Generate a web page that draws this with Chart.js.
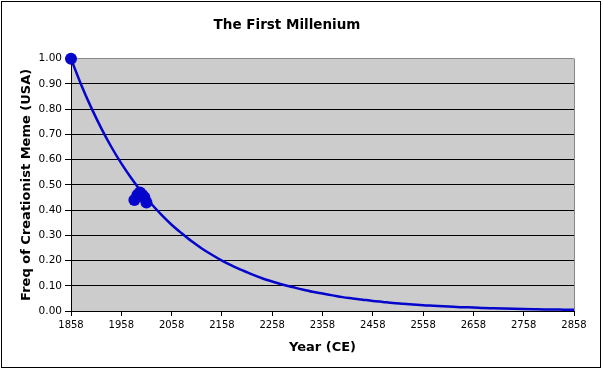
<!DOCTYPE html>
<html>
<head>
<meta charset="utf-8">
<script src="https://cdn.jsdelivr.net/npm/chart.js@4"></script>
<style>
  html, body { margin: 0; padding: 0; background: #fff; }
  #wrap { width: 603px; height: 370px; }
</style>
</head>
<body>
<div id="wrap"><canvas id="chart" width="603" height="370"></canvas></div>
<script>
// --- Data ---
const years = [1858, 1878, 1898, 1918, 1938, 1958, 1978, 1998, 2018, 2038,
  2058, 2078, 2098, 2118, 2138, 2158, 2178, 2198, 2218, 2238,
  2258, 2278, 2298, 2318, 2338, 2358, 2378, 2398, 2418, 2438,
  2458, 2478, 2498, 2518, 2538, 2558, 2578, 2598, 2618, 2638,
  2658, 2678, 2698, 2718, 2738, 2758, 2778, 2798, 2818, 2838, 2858];
const freq = [1.000, 0.898, 0.807, 0.725, 0.651, 0.585, 0.526, 0.472, 0.424, 0.381,
  0.342, 0.308, 0.276, 0.248, 0.223, 0.200, 0.180, 0.162, 0.145, 0.130,
  0.117, 0.105, 0.095, 0.085, 0.076, 0.069, 0.062, 0.055, 0.050, 0.045,
  0.040, 0.036, 0.032, 0.029, 0.026, 0.023, 0.021, 0.019, 0.017, 0.015,
  0.014, 0.012, 0.011, 0.010, 0.009, 0.008, 0.007, 0.006, 0.006, 0.005, 0.005];

// observed points (start + survey cluster)
const obsYears = [1858, 1984, 1990, 1995, 2000, 2004, 2008];
const obsFreq = [1.00, 0.44, 0.46, 0.47, 0.46, 0.45, 0.43];

const xTicks = [1858, 1958, 2058, 2158, 2258, 2358, 2458, 2558, 2658, 2758, 2858];

const BLUE = '#0505cc';
const FONT = 'DejaVu Sans';

// --- Plugins ---
const frame = {
  id: 'frame',
  beforeDraw(chart) {
    const { ctx, chartArea: a } = chart;
    ctx.save();
    ctx.fillStyle = '#fff';
    ctx.fillRect(0, 0, chart.width, chart.height);
    ctx.fillStyle = '#cccccc';
    ctx.fillRect(a.left, a.top, a.right - a.left, a.bottom - a.top);
    ctx.strokeStyle = '#000';
    ctx.lineWidth = 1;
    ctx.strokeRect(1.5, 1.5, 599, 366);
    ctx.restore();
  },
  afterDraw(chart) {
    const { ctx, chartArea: a } = chart;
    ctx.save();
    ctx.strokeStyle = '#888';
    ctx.lineWidth = 1;
    ctx.beginPath();
    ctx.moveTo(a.right + 0.5, a.top);
    ctx.lineTo(a.right + 0.5, a.bottom);
    ctx.stroke();
    ctx.restore();
  }
};

// --- Chart ---
new Chart(document.getElementById('chart'), {
  type: 'line',
  data: {
    datasets: [
      {
        label: 'Model',
        data: years.map((y, i) => ({ x: y, y: freq[i] })),
        borderColor: BLUE,
        borderWidth: 2.5,
        pointRadius: 0,
        cubicInterpolationMode: 'monotone',
        order: 2
      },
      {
        label: 'Observed',
        data: obsYears.map((y, i) => ({ x: y, y: obsFreq[i] })),
        showLine: false,
        pointRadius: 6,
        pointBackgroundColor: BLUE,
        pointBorderWidth: 0,
        order: 1
      }
    ]
  },
  options: {
    responsive: false,
    animation: false,
    devicePixelRatio: 1,
    clip: false,
    layout: { padding: { left: 0, right: 29, top: 0, bottom: 0 } },
    plugins: {
      legend: { display: false },
      tooltip: { enabled: false },
      title: {
        display: true,
        text: 'The First Millenium',
        color: '#000',
        font: { family: FONT, size: 13.5, weight: 'bold' },
        padding: { top: 17, bottom: 25.5 }
      }
    },
    scales: {
      x: {
        type: 'linear',
        min: 1858,
        max: 2858,
        afterBuildTicks: s => { s.ticks = xTicks.map(v => ({ value: v })); },
        afterFit: s => { s.height = 59; },
        ticks: {
          color: '#000',
          font: { family: FONT, size: 10 },
          padding: 3,
          maxRotation: 0,
          autoSkip: false,
          callback: v => String(v)
        },
        grid: { drawOnChartArea: false, color: '#000', tickLength: 5 },
        border: { color: '#000', width: 1 },
        title: {
          display: true,
          text: 'Year (CE)',
          color: '#000',
          font: { family: FONT, size: 13, weight: 'bold' },
          padding: { top: 4, bottom: 15 }
        }
      },
      y: {
        min: 0,
        max: 1,
        afterFit: s => { s.width = 71; },
        ticks: {
          stepSize: 0.1,
          color: '#000',
          font: { family: FONT, size: 10.5 },
          padding: 3,
          callback: v => v.toFixed(2)
        },
        grid: {
          color: c => (c.tick && c.tick.value === 1 ? '#888' : '#000'),
          tickLength: 6
        },
        border: { color: '#000', width: 1 },
        title: {
          display: true,
          text: 'Freq of Creationist Meme (USA)',
          color: '#000',
          font: { family: FONT, size: 13, weight: 'bold' },
          padding: { top: 19, bottom: 0 }
        }
      }
    }
  },
  plugins: [frame]
});
</script>
</body>
</html>
